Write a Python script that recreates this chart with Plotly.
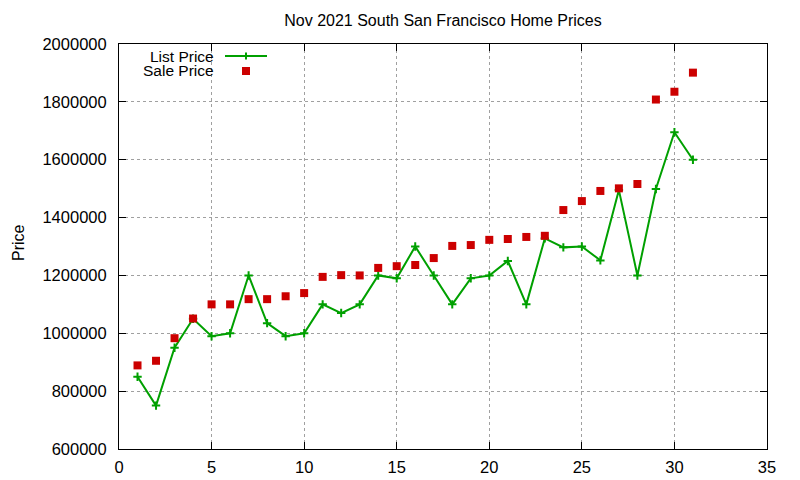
import plotly.graph_objects as go

# day of month
days = list(range(1, 32))

list_price = [850000, 750000, 950000, 1050000, 990000, 1000000, 1200000, 1035000,
              990000, 1000000, 1100000, 1070000, 1100000, 1200000, 1190000, 1300000,
              1200000, 1100000, 1190000, 1200000, 1250000, 1100000, 1328000, 1297000,
              1300000, 1252000, 1495000, 1200000, 1499000, 1695000, 1600000]

sale_price = [889000, 905000, 983000, 1051000, 1100000, 1100000, 1118000, 1118000,
              1128000, 1139000, 1195000, 1201000, 1200000, 1226000, 1232000, 1236000,
              1260000, 1302000, 1305000, 1323000, 1326000, 1333000, 1337000, 1426000,
              1457000, 1492000, 1501000, 1516000, 1808000, 1835000, 1901000]

x_ticks = [0, 5, 10, 15, 20, 25, 30, 35]
y_ticks = [600000, 800000, 1000000, 1200000, 1400000, 1600000, 1800000, 2000000]

green = '#00a000'
red = '#cc0000'
font = "Liberation Sans, Arial, sans-serif"

# the page body has an 8px margin, so the plot box is placed 8px up/left of where it shows
PAD = 8
plot_l, plot_r, plot_t, plot_b = 119 - PAD, 767 - PAD, 44 - PAD, 449 - PAD
plot_w, plot_h = plot_r - plot_l, plot_b - plot_t

fig = go.Figure()

fig.add_trace(go.Scatter(
        x=days,
        y=list_price,
        mode='lines+markers',
        line=dict(color=green, width=2),
        marker=dict(symbol='cross-thin', size=6, line=dict(width=2, color=green), color=green),
        name='List Price',
        showlegend=False
))

fig.add_trace(go.Scatter(
        x=days,
        y=sale_price,
        mode='markers',
        marker=dict(symbol='square', size=8, color=red),
        name='Sale Price',
        showlegend=False
))

axis_common = dict(
        showline=True,
        linecolor='black',
        linewidth=1,
        mirror='ticks',
        ticks='inside',
        ticklen=7,
        tickcolor='black',
        showgrid=True,
        gridcolor='#a0a0a0',
        griddash='dot',
        gridwidth=1,
        zeroline=False,
        tickfont=dict(family=font, size=16.5, color='black'),
)

fig.update_layout(
        width=800,
        height=480,
        margin=dict(l=plot_l, r=800 - plot_r, t=plot_t, b=480 - plot_b, autoexpand=False),
        paper_bgcolor='white',
        plot_bgcolor='white',
        font=dict(family=font, size=16, color='black'),
        title=dict(text='Nov 2021 South San Francisco Home Prices',
                   x=(plot_l + plot_r) / 2 / 800, xanchor='center',
                   y=1 - (20 - PAD) / 480, yanchor='middle',
                   font=dict(size=16, color='black')),
        xaxis=dict(**axis_common, range=[0, 35], tickvals=x_ticks, ticklabelstandoff=3),
        yaxis=dict(**axis_common, range=[600000, 2000000], tickvals=y_ticks,
                   tickformat='d', ticklabelstandoff=8),
        showlegend=False,
)

# y axis title
fig.add_annotation(text='Price', xref='paper', yref='paper', x=(18 - 119) / plot_w, y=(449 - 243) / plot_h,
                   xanchor='center', yanchor='middle',
                   textangle=-90, showarrow=False, font=dict(size=16))

# gnuplot style key, top left
key_x_text = (216 - 119) / plot_w
key_y1 = (449 - 56) / plot_h
key_y2 = (449 - 71) / plot_h
fig.add_annotation(text='List Price', xref='paper', yref='paper', x=key_x_text, y=key_y1,
                   xanchor='right', yanchor='middle', showarrow=False, font=dict(size=15.5))
fig.add_annotation(text='Sale Price', xref='paper', yref='paper', x=key_x_text, y=key_y2,
                   xanchor='right', yanchor='middle', showarrow=False, font=dict(size=15.5))
sx0, sx1 = (225 - 119) / plot_w, (267 - 119) / plot_w
sxc = (246 - 119) / plot_w
fig.add_shape(type='line', xref='paper', yref='paper', x0=sx0, x1=sx1, y0=key_y1, y1=key_y1,
              line=dict(color=green, width=2))
fig.add_shape(type='line', xref='paper', yref='paper', x0=sxc, x1=sxc,
              y0=key_y1 - 3.5 / plot_h, y1=key_y1 + 3.5 / plot_h, line=dict(color=green, width=2))
fig.add_shape(type='rect', xref='paper', yref='paper',
              x0=sxc - 4 / plot_w, x1=sxc + 4 / plot_w,
              y0=key_y2 - 4 / plot_h, y1=key_y2 + 4 / plot_h,
              line=dict(width=0), fillcolor=red)

fig.write_html("out.html")
